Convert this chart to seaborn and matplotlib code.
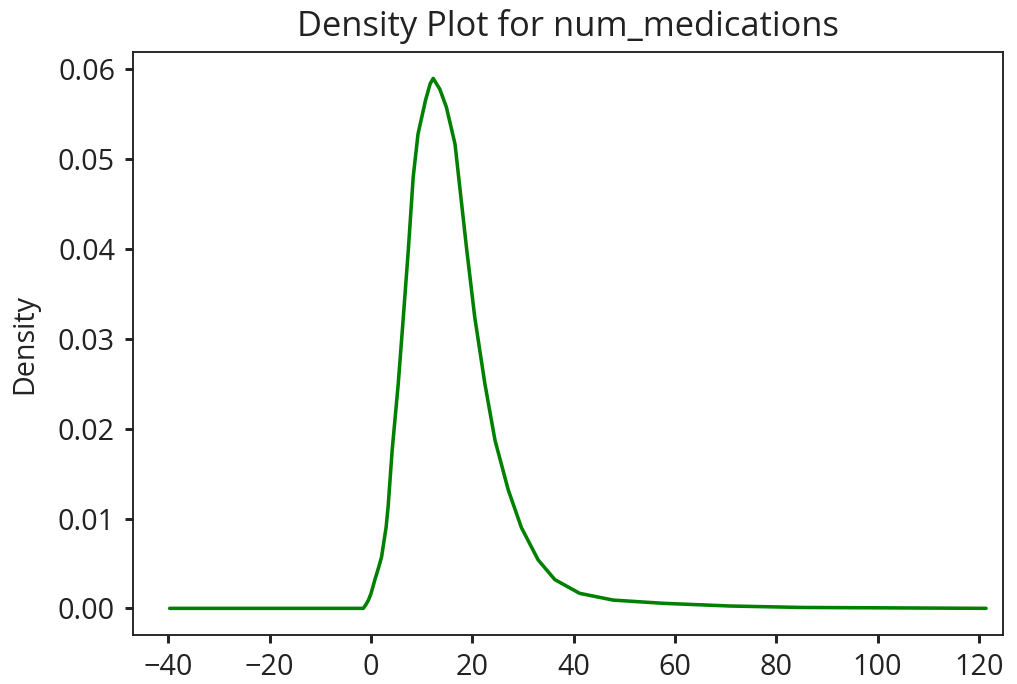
import matplotlib
matplotlib.use("Agg")
import matplotlib.pyplot as plt
import seaborn as sns
import pandas as pd

# Kernel density estimate of num_medications, sampled along the curve
grid_x = [-39.7, -1.5, -1.0, -0.5, 0.0, 0.8, 1.5, 2.1, 3.0, 3.4, 4.2, 5.4, 6.4,
          7.4, 8.35, 9.3, 10.8, 11.7, 12.3, 13.6, 14.9, 16.6, 18.9, 20.5, 22.5,
          24.5, 27.1, 29.7, 33.0, 36.3, 41.2, 47.8, 57.7, 70.9, 85.0, 121.4]
density = [0.0, 0.0, 0.0004, 0.0009, 0.0016, 0.0032, 0.0045, 0.0057, 0.0090,
           0.0113, 0.0176, 0.0250, 0.0324, 0.0400, 0.0480, 0.0528, 0.0566,
           0.0584, 0.0590, 0.0578, 0.0558, 0.0517, 0.0400, 0.0324, 0.0250,
           0.0187, 0.0132, 0.0090, 0.0054, 0.0032, 0.00167, 0.00092, 0.00056,
           0.00026, 0.0001, 0.0]
x_ticks = [-40, -20, 0, 20, 40, 60, 80, 100, 120]
y_ticks = [0.00, 0.01, 0.02, 0.03, 0.04, 0.05, 0.06]

sns.set_theme(style="ticks")
plt.rcParams["font.family"] = ["Open Sans", "DejaVu Sans"]
plt.rcParams.update({
    "axes.edgecolor": "#222222",
    "axes.linewidth": 0.8,
    "xtick.color": "#222222",
    "ytick.color": "#222222",
    "text.color": "#222222",
    "axes.labelcolor": "#222222",
    "xtick.major.size": 3.5,
    "ytick.major.size": 3.5,
})

df = pd.DataFrame({"num_medications": grid_x, "Density": density})

fig = plt.figure(figsize=(1017 / 170, 684 / 170), dpi=170)
ax = fig.add_axes([0.1305, 0.0716, 0.986 - 0.1305, 0.9235 - 0.0716])
sns.lineplot(data=df, x="num_medications", y="Density", color="green",
             linewidth=1.5, ax=ax)

ax.set_xlim(-47.0, 124.7)
ax.set_ylim(-0.00297, 0.0619)
ax.set_xticks(x_ticks)
ax.set_yticks(y_ticks)
ax.set_yticklabels([f"{v:.2f}" for v in y_ticks])
ax.tick_params(labelsize=12.2, pad=4)
ax.set_xlabel("")
ax.set_ylabel("Density", fontsize=12.2, labelpad=8)
ax.set_title("Density Plot for num_medications", fontsize=14.6, pad=7)
for side in ["top", "right"]:
    ax.spines[side].set_visible(True)

fig.savefig("out.png", dpi=170)
